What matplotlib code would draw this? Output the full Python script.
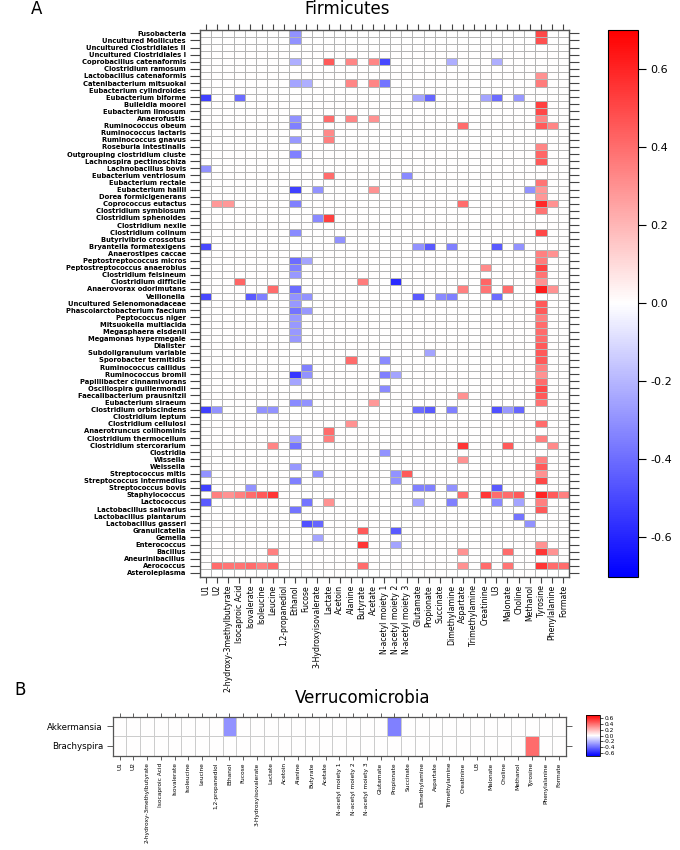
import numpy as np
import matplotlib
matplotlib.use("Agg")
import matplotlib.pyplot as plt
from matplotlib import font_manager

metabolites = ["U1", "U2", "2-hydroxy-3methylbutyrate", "Isocaproic Acid", "Isovalerate",
               "Isoleucine", "Leucine", "1,2-propanediol", "Ethanol", "Fucose",
               "3-Hydroxyisovalerate", "Lactate", "Acetoin", "Alanine", "Butyrate", "Acetate",
               "N-acetyl moiety 1", "N-acetyl moiety 2", "N-acetyl moiety 3", "Glutamate",
               "Propionate", "Succinate", "Dimethylamine", "Aspartate", "Trimethylamine",
               "Creatinine", "U3", "Malonate", "Choline", "Methanol", "Tyrosine",
               "Phenylalanine", "Formate"]

firm_rows = ["Fusobacteria", "Uncultured Mollicutes", "Uncultured Clostridiales II",
             "Uncultured Clostridiales I", "Coprobacillus catenaformis", "Clostridium ramosum",
             "Lactobacillus catenaformis", "Catenibacterium mitsuokai", "Eubacterium cylindroides",
             "Eubacterium biforme", "Bulleidia moorei", "Eubacterium limosum", "Anaerofustis",
             "Ruminococcus obeum", "Ruminococcus lactaris", "Ruminococcus gnavus",
             "Roseburia intestinalis", "Outgrouping clostridium cluste", "Lachnospira pectinoschiza",
             "Lachnobacillus bovis", "Eubacterium ventriosum", "Eubacterium rectale",
             "Eubacterium hallii", "Dorea formicigenerans", "Coprococcus eutactus",
             "Clostridium symbiosum", "Clostridium sphenoides", "Clostridium nexile",
             "Clostridium colinum", "Butyrivibrio crossotus", "Bryantella formatexigens",
             "Anaerostipes caccae", "Peptostreptococcus micros", "Peptostreptococcus anaerobius",
             "Clostridium felsineum", "Clostridium difficile", "Anaerovorax odorimutans",
             "Veillonella", "Uncultured Selenomonadaceae", "Phascolarctobacterium faecium",
             "Peptococcus niger", "Mitsuokella multiacida", "Megasphaera elsdenii",
             "Megamonas hypermegale", "Dialister", "Subdoligranulum variable",
             "Sporobacter termitidis", "Ruminococcus callidus", "Ruminococcus bromii",
             "Papillibacter cinnamivorans", "Oscillospira guillermondii",
             "Faecalibacterium prausnitzii", "Eubacterium siraeum", "Clostridium orbiscindens",
             "Clostridium leptum", "Clostridium cellulosi", "Anaerotruncus colihominis",
             "Clostridium thermocellum", "Clostridium stercorarium", "Clostridia", "Wissella",
             "Weissella", "Streptococcus mitis", "Streptococcus intermedius", "Streptococcus bovis",
             "Staphylococcus", "Lactococcus", "Lactobacillus salivarius", "Lactobacillus plantarum",
             "Lactobacillus gasseri", "Granulicatella", "Gemella", "Enterococcus", "Bacillus",
             "Aneurinibacillus", "Aerococcus", "Asteroleplasma"]

# (bacterium, metabolite, correlation) -- cells not listed are 0
firm_cells = [
    ("Fusobacteria", "Ethanol", -0.30), ("Fusobacteria", "Tyrosine", 0.50),
    ("Uncultured Mollicutes", "Ethanol", -0.30), ("Uncultured Mollicutes", "Tyrosine", 0.48),
    ("Coprobacillus catenaformis", "Ethanol", -0.22), ("Coprobacillus catenaformis", "Lactate", 0.45),
    ("Coprobacillus catenaformis", "Alanine", 0.33), ("Coprobacillus catenaformis", "Acetate", 0.33),
    ("Coprobacillus catenaformis", "N-acetyl moiety 1", -0.50),
    ("Coprobacillus catenaformis", "Dimethylamine", -0.22), ("Coprobacillus catenaformis", "U3", -0.22),
    ("Lactobacillus catenaformis", "Tyrosine", 0.30),
    ("Catenibacterium mitsuokai", "Ethanol", -0.25), ("Catenibacterium mitsuokai", "Fucose", -0.22),
    ("Catenibacterium mitsuokai", "Alanine", 0.33), ("Catenibacterium mitsuokai", "Acetate", 0.33),
    ("Catenibacterium mitsuokai", "N-acetyl moiety 1", -0.38), ("Catenibacterium mitsuokai", "Tyrosine", 0.36),
    ("Eubacterium biforme", "U1", -0.52), ("Eubacterium biforme", "Isocaproic Acid", -0.40),
    ("Eubacterium biforme", "Glutamate", -0.25), ("Eubacterium biforme", "Propionate", -0.42),
    ("Eubacterium biforme", "Creatinine", -0.25), ("Eubacterium biforme", "U3", -0.40),
    ("Eubacterium biforme", "Choline", -0.28),
    ("Bulleidia moorei", "Tyrosine", 0.52),
    ("Eubacterium limosum", "Tyrosine", 0.50),
    ("Anaerofustis", "Ethanol", -0.30), ("Anaerofustis", "Lactate", 0.40), ("Anaerofustis", "Alanine", 0.33),
    ("Anaerofustis", "Acetate", 0.30), ("Anaerofustis", "Tyrosine", 0.33),
    ("Ruminococcus obeum", "Ethanol", -0.35), ("Ruminococcus obeum", "Aspartate", 0.40),
    ("Ruminococcus obeum", "Tyrosine", 0.45), ("Ruminococcus obeum", "Phenylalanine", 0.33),
    ("Ruminococcus lactaris", "Lactate", 0.32),
    ("Ruminococcus gnavus", "Ethanol", -0.28), ("Ruminococcus gnavus", "Lactate", 0.35),
    ("Roseburia intestinalis", "Tyrosine", 0.33),
    ("Outgrouping clostridium cluste", "Ethanol", -0.35), ("Outgrouping clostridium cluste", "Tyrosine", 0.42),
    ("Lachnospira pectinoschiza", "Tyrosine", 0.45),
    ("Lachnobacillus bovis", "U1", -0.30),
    ("Eubacterium ventriosum", "Lactate", 0.40), ("Eubacterium ventriosum", "N-acetyl moiety 3", -0.32),
    ("Eubacterium rectale", "Tyrosine", 0.38),
    ("Eubacterium hallii", "Ethanol", -0.52), ("Eubacterium hallii", "3-Hydroxyisovalerate", -0.30),
    ("Eubacterium hallii", "Acetate", 0.30), ("Eubacterium hallii", "Methanol", -0.30),
    ("Eubacterium hallii", "Tyrosine", 0.28),
    ("Dorea formicigenerans", "Tyrosine", 0.28),
    ("Coprococcus eutactus", "U2", 0.28), ("Coprococcus eutactus", "2-hydroxy-3methylbutyrate", 0.28),
    ("Coprococcus eutactus", "Ethanol", -0.35), ("Coprococcus eutactus", "Aspartate", 0.40),
    ("Coprococcus eutactus", "Tyrosine", 0.58), ("Coprococcus eutactus", "Phenylalanine", 0.30),
    ("Clostridium symbiosum", "Tyrosine", 0.38),
    ("Clostridium sphenoides", "3-Hydroxyisovalerate", -0.32), ("Clostridium sphenoides", "Lactate", 0.52),
    ("Clostridium colinum", "Ethanol", -0.32), ("Clostridium colinum", "Tyrosine", 0.50),
    ("Butyrivibrio crossotus", "Acetoin", -0.30),
    ("Bryantella formatexigens", "U1", -0.50), ("Bryantella formatexigens", "Glutamate", -0.30),
    ("Bryantella formatexigens", "Propionate", -0.45), ("Bryantella formatexigens", "Dimethylamine", -0.35),
    ("Bryantella formatexigens", "U3", -0.45), ("Bryantella formatexigens", "Choline", -0.30),
    ("Anaerostipes caccae", "Tyrosine", 0.35), ("Anaerostipes caccae", "Phenylalanine", 0.30),
    ("Peptostreptococcus micros", "Ethanol", -0.40), ("Peptostreptococcus micros", "Fucose", -0.25),
    ("Peptostreptococcus micros", "Tyrosine", 0.36),
    ("Peptostreptococcus anaerobius", "Ethanol", -0.35), ("Peptostreptococcus anaerobius", "Creatinine", 0.32),
    ("Peptostreptococcus anaerobius", "Tyrosine", 0.52),
    ("Clostridium felsineum", "Ethanol", -0.28), ("Clostridium felsineum", "Tyrosine", 0.38),
    ("Clostridium difficile", "Isocaproic Acid", 0.42), ("Clostridium difficile", "Butyrate", 0.36),
    ("Clostridium difficile", "N-acetyl moiety 2", -0.58), ("Clostridium difficile", "Creatinine", 0.42),
    ("Clostridium difficile", "Tyrosine", 0.30),
    ("Anaerovorax odorimutans", "Leucine", 0.40), ("Anaerovorax odorimutans", "Ethanol", -0.40),
    ("Anaerovorax odorimutans", "Aspartate", 0.35), ("Anaerovorax odorimutans", "Creatinine", 0.38),
    ("Anaerovorax odorimutans", "Malonate", 0.40), ("Anaerovorax odorimutans", "Tyrosine", 0.62),
    ("Anaerovorax odorimutans", "Phenylalanine", 0.30),
    ("Veillonella", "U1", -0.50), ("Veillonella", "Isovalerate", -0.45), ("Veillonella", "Isoleucine", -0.35),
    ("Veillonella", "Ethanol", -0.30), ("Veillonella", "Fucose", -0.30), ("Veillonella", "Glutamate", -0.45),
    ("Veillonella", "Succinate", -0.32), ("Veillonella", "Dimethylamine", -0.35), ("Veillonella", "U3", -0.40),
    ("Uncultured Selenomonadaceae", "Ethanol", -0.28), ("Uncultured Selenomonadaceae", "Tyrosine", 0.45),
    ("Phascolarctobacterium faecium", "Ethanol", -0.38), ("Phascolarctobacterium faecium", "Fucose", -0.28),
    ("Phascolarctobacterium faecium", "Tyrosine", 0.45),
    ("Peptococcus niger", "Ethanol", -0.28), ("Peptococcus niger", "Tyrosine", 0.35),
    ("Mitsuokella multiacida", "Ethanol", -0.28), ("Mitsuokella multiacida", "Tyrosine", 0.40),
    ("Megasphaera elsdenii", "Ethanol", -0.28), ("Megasphaera elsdenii", "Tyrosine", 0.40),
    ("Megamonas hypermegale", "Ethanol", -0.28), ("Megamonas hypermegale", "Tyrosine", 0.40),
    ("Dialister", "Tyrosine", 0.45),
    ("Subdoligranulum variable", "Propionate", -0.25), ("Subdoligranulum variable", "Tyrosine", 0.45),
    ("Sporobacter termitidis", "Alanine", 0.40), ("Sporobacter termitidis", "N-acetyl moiety 1", -0.32),
    ("Sporobacter termitidis", "Tyrosine", 0.45),
    ("Ruminococcus callidus", "Fucose", -0.35), ("Ruminococcus callidus", "Tyrosine", 0.35),
    ("Ruminococcus bromii", "Ethanol", -0.55), ("Ruminococcus bromii", "Fucose", -0.30),
    ("Ruminococcus bromii", "N-acetyl moiety 1", -0.35), ("Ruminococcus bromii", "N-acetyl moiety 2", -0.25),
    ("Ruminococcus bromii", "Tyrosine", 0.30),
    ("Papillibacter cinnamivorans", "Ethanol", -0.25), ("Papillibacter cinnamivorans", "Tyrosine", 0.40),
    ("Oscillospira guillermondii", "N-acetyl moiety 1", -0.32), ("Oscillospira guillermondii", "Tyrosine", 0.50),
    ("Faecalibacterium prausnitzii", "Aspartate", 0.30), ("Faecalibacterium prausnitzii", "Tyrosine", 0.45),
    ("Eubacterium siraeum", "Ethanol", -0.32), ("Eubacterium siraeum", "Fucose", -0.30),
    ("Eubacterium siraeum", "Acetate", 0.28), ("Eubacterium siraeum", "Tyrosine", 0.38),
    ("Clostridium orbiscindens", "U1", -0.52), ("Clostridium orbiscindens", "U2", -0.30),
    ("Clostridium orbiscindens", "Isoleucine", -0.30), ("Clostridium orbiscindens", "Leucine", -0.30),
    ("Clostridium orbiscindens", "Glutamate", -0.40), ("Clostridium orbiscindens", "Propionate", -0.45),
    ("Clostridium orbiscindens", "Dimethylamine", -0.35), ("Clostridium orbiscindens", "U3", -0.48),
    ("Clostridium orbiscindens", "Malonate", -0.28), ("Clostridium orbiscindens", "Choline", -0.42),
    ("Clostridium cellulosi", "Alanine", 0.30), ("Clostridium cellulosi", "Tyrosine", 0.40),
    ("Anaerotruncus colihominis", "Lactate", 0.40),
    ("Clostridium thermocellum", "Ethanol", -0.25), ("Clostridium thermocellum", "Lactate", 0.35),
    ("Clostridium thermocellum", "Tyrosine", 0.35),
    ("Clostridium stercorarium", "Leucine", 0.33), ("Clostridium stercorarium", "Ethanol", -0.38),
    ("Clostridium stercorarium", "Aspartate", 0.55), ("Clostridium stercorarium", "Malonate", 0.45),
    ("Clostridium stercorarium", "Phenylalanine", 0.32),
    ("Clostridia", "N-acetyl moiety 1", -0.30),
    ("Wissella", "Aspartate", 0.30), ("Wissella", "Tyrosine", 0.35),
    ("Weissella", "Ethanol", -0.28), ("Weissella", "Tyrosine", 0.45),
    ("Streptococcus mitis", "U1", -0.30), ("Streptococcus mitis", "3-Hydroxyisovalerate", -0.30),
    ("Streptococcus mitis", "N-acetyl moiety 2", -0.30), ("Streptococcus mitis", "N-acetyl moiety 3", 0.45),
    ("Streptococcus mitis", "Tyrosine", 0.30),
    ("Streptococcus intermedius", "Ethanol", -0.35), ("Streptococcus intermedius", "N-acetyl moiety 2", -0.30),
    ("Streptococcus intermedius", "Tyrosine", 0.50),
    ("Streptococcus bovis", "U1", -0.52), ("Streptococcus bovis", "Isovalerate", -0.30),
    ("Streptococcus bovis", "Glutamate", -0.35), ("Streptococcus bovis", "Propionate", -0.35),
    ("Streptococcus bovis", "Dimethylamine", -0.30), ("Streptococcus bovis", "U3", -0.45),
    ("Staphylococcus", "U2", 0.35), ("Staphylococcus", "2-hydroxy-3methylbutyrate", 0.30),
    ("Staphylococcus", "Isocaproic Acid", 0.35), ("Staphylococcus", "Isovalerate", 0.40),
    ("Staphylococcus", "Isoleucine", 0.45), ("Staphylococcus", "Leucine", 0.55),
    ("Staphylococcus", "Aspartate", 0.40), ("Staphylococcus", "Creatinine", 0.55),
    ("Staphylococcus", "U3", 0.40), ("Staphylococcus", "Malonate", 0.40), ("Staphylococcus", "Choline", 0.45),
    ("Staphylococcus", "Tyrosine", 0.60), ("Staphylococcus", "Phenylalanine", 0.45),
    ("Staphylococcus", "Formate", 0.35),
    ("Lactococcus", "U1", -0.45), ("Lactococcus", "Fucose", -0.38), ("Lactococcus", "Lactate", 0.30),
    ("Lactococcus", "Glutamate", -0.25), ("Lactococcus", "Dimethylamine", -0.35), ("Lactococcus", "U3", -0.32),
    ("Lactococcus", "Choline", -0.25), ("Lactococcus", "Tyrosine", 0.35),
    ("Lactobacillus salivarius", "Ethanol", -0.38), ("Lactobacillus salivarius", "Tyrosine", 0.45),
    ("Lactobacillus plantarum", "Choline", -0.38),
    ("Lactobacillus gasseri", "Fucose", -0.48), ("Lactobacillus gasseri", "3-Hydroxyisovalerate", -0.42),
    ("Lactobacillus gasseri", "Methanol", -0.30),
    ("Granulicatella", "Butyrate", 0.45), ("Granulicatella", "N-acetyl moiety 2", -0.45),
    ("Gemella", "3-Hydroxyisovalerate", -0.25),
    ("Enterococcus", "Butyrate", 0.55), ("Enterococcus", "N-acetyl moiety 2", -0.25),
    ("Enterococcus", "Tyrosine", 0.30),
    ("Bacillus", "Leucine", 0.35), ("Bacillus", "Aspartate", 0.30), ("Bacillus", "Malonate", 0.40),
    ("Bacillus", "Tyrosine", 0.55), ("Bacillus", "Phenylalanine", 0.30),
    ("Aerococcus", "U2", 0.40), ("Aerococcus", "2-hydroxy-3methylbutyrate", 0.38),
    ("Aerococcus", "Isocaproic Acid", 0.38), ("Aerococcus", "Isovalerate", 0.40),
    ("Aerococcus", "Isoleucine", 0.35), ("Aerococcus", "Leucine", 0.40), ("Aerococcus", "Butyrate", 0.40),
    ("Aerococcus", "Aspartate", 0.30), ("Aerococcus", "Creatinine", 0.40), ("Aerococcus", "Malonate", 0.38),
    ("Aerococcus", "Tyrosine", 0.55), ("Aerococcus", "Phenylalanine", 0.40), ("Aerococcus", "Formate", 0.40),
]

verruc_rows = ["Akkermansia", "Brachyspira"]
verruc_cells = [
    ("Akkermansia", "Ethanol", -0.30), ("Akkermansia", "Propionate", -0.35),
    ("Brachyspira", "Tyrosine", 0.40),
]

cbar_ticks = [-0.6, -0.4, -0.2, 0.0, 0.2, 0.4, 0.6]


def build(rows, cells):
    m = np.zeros((len(rows), len(metabolites)))
    for r, c, v in cells:
        m[rows.index(r), metabolites.index(c)] = v
    return m


names = {f.name for f in font_manager.fontManager.ttflist}
narrow = "Liberation Sans Narrow" if "Liberation Sans Narrow" in names else "DejaVu Sans"

W, H = 680, 850
fig = plt.figure(figsize=(W / 100, H / 100), dpi=100)


def box(x0, y0, x1, y1):
    return [x0 / W, 1 - y1 / H, (x1 - x0) / W, (y1 - y0) / H]


edge = "#555555"

# ---- panel A
mA = build(firm_rows, firm_cells)
axA = fig.add_axes(box(200, 29.8, 569, 576.5))
mesh = axA.pcolormesh(mA, cmap="bwr", vmin=-0.7, vmax=0.7,
                      edgecolors="#b4b4b4", linewidth=0.45)
axA.set_xlim(0, len(metabolites))
axA.set_ylim(len(firm_rows), 0)
axA.set_xticks(np.arange(len(metabolites)) + 0.5)
axA.set_xticklabels(metabolites, rotation=90, fontsize=5.6, family=narrow)
axA.set_yticks(np.arange(len(firm_rows)) + 0.5)
axA.set_yticklabels(firm_rows, fontsize=4.9, fontweight="bold")
axA.tick_params(axis="x", top=True, direction="out", length=4, width=0.8, color="#444444", pad=2)
axA.tick_params(axis="y", right=True, direction="out", length=7, width=0.8, color="#444444", pad=3)
for s in axA.spines.values():
    s.set_color(edge)
    s.set_linewidth(1.0)

caxA = fig.add_axes(box(608, 29.8, 638, 576.5))
cbA = fig.colorbar(mesh, cax=caxA, ticks=cbar_ticks)
cbA.ax.set_yticklabels([f"{t:.1f}" for t in cbar_ticks])
cbA.ax.tick_params(length=6, width=0.8, labelsize=8, pad=3)
cbA.outline.set_linewidth(0.8)

fig.text(347 / W, 1 - 9 / H, "Firmicutes", ha="center", va="center", fontsize=12)
fig.text(37 / W, 1 - 9 / H, "A", ha="center", va="center", fontsize=12)

# ---- panel B
mB = build(verruc_rows, verruc_cells)
axB = fig.add_axes(box(112.7, 716.7, 566, 755.5))
meshB = axB.pcolormesh(mB, cmap="bwr", vmin=-0.7, vmax=0.7,
                       edgecolors="#cccccc", linewidth=0.5)
axB.set_xlim(0, len(metabolites))
axB.set_ylim(len(verruc_rows), 0)
axB.set_xticks(np.arange(len(metabolites)) + 0.5)
axB.set_xticklabels(metabolites, rotation=90, fontsize=4.2, family=narrow)
axB.set_yticks(np.arange(len(verruc_rows)) + 0.5)
axB.set_yticklabels(verruc_rows, fontsize=6.2)
axB.tick_params(axis="x", top=True, direction="out", length=3, width=0.6, color="#444444", pad=2)
axB.tick_params(axis="y", right=True, direction="out", length=4, width=0.6, color="#444444", pad=3)
for s in axB.spines.values():
    s.set_color(edge)
    s.set_linewidth(0.9)

caxB = fig.add_axes(box(586, 715, 600, 756))
cbB = fig.colorbar(meshB, cax=caxB, ticks=cbar_ticks)
cbB.ax.set_yticklabels([f"{t:.1f}" for t in cbar_ticks])
cbB.ax.tick_params(length=2, width=0.5, labelsize=4.2, pad=1)
cbB.outline.set_linewidth(0.6)

fig.text(363 / W, 1 - 698 / H, "Verrucomicrobia", ha="center", va="center", fontsize=12)
fig.text(20 / W, 1 - 690 / H, "B", ha="center", va="center", fontsize=12)

fig.savefig("out.png", dpi=100)
